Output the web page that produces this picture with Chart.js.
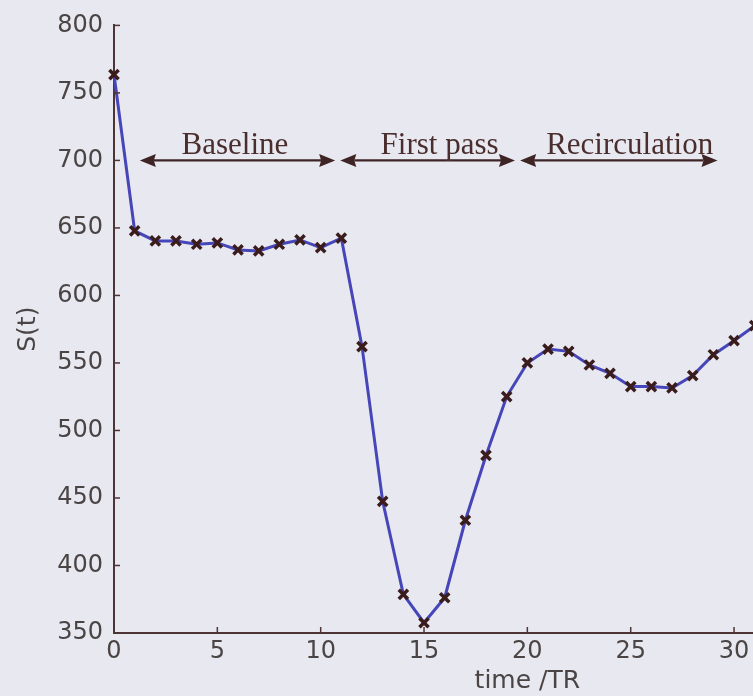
<!DOCTYPE html>
<html>
<head>
<meta charset="utf-8">
<script src="https://cdn.jsdelivr.net/npm/chart.js@4"></script>
<style>
  html, body { margin: 0; padding: 0; background: #e8e8f0; overflow: hidden; width: 753px; height: 696px; }
  #wrap { width: 960px; height: 696px; }
</style>
</head>
<body>
<div id="wrap"><canvas id="c" width="960" height="696"></canvas></div>
<script>
// Signal intensity S(t) sampled once per repetition time
const timeTR = [0, 1, 2, 3, 4, 5, 6, 7, 8, 9, 10, 11, 12, 13, 14, 15,
                16, 17, 18, 19, 20, 21, 22, 23, 24, 25, 26, 27, 28, 29, 30, 31];
const signal = [763.6, 647.8, 640.4, 640.4, 637.9, 638.9, 633.7, 633.0, 637.9, 641.1, 635.4, 642.4,
                562.1, 447.5, 378.6, 357.6, 376.1, 433.5, 481.5, 525.1, 550.0, 560.3, 558.6, 548.5,
                542.3, 532.5, 532.5, 531.5, 540.6, 556.1, 566.5, 577.6];

// Axis tick values
const xTickValues = [0, 5, 10, 15, 20, 25, 30, 35, 40];
const yTickValues = [350, 400, 450, 500, 550, 600, 650, 700, 750, 800];

// Bolus phases: arrow spans (in TR) and where each name sits
const phaseNames   = ['Baseline', 'First pass', 'Recirculation'];
const phaseFrom    = [1.25, 10.95, 19.65];
const phaseTo      = [10.7, 19.4, 29.2];
const phaseLabelAt = [5.85, 15.75, 24.95];
const phaseLevel   = 700;

const AXIS_COL = '#4e3434';
const TEXT_COL = '#4a4444';
const NOTE_COL = '#3e2424';
const SANS = '"DejaVu Sans", "Liberation Sans", Arial, sans-serif';

const fixTicks = values => scale => { scale.ticks = values.map(v => ({ value: v })); };

// Inward tick marks and the phase arrows
const decorations = {
  id: 'decorations',
  afterDraw(chart) {
    const { ctx, chartArea, scales: { x, y } } = chart;
    ctx.save();
    ctx.strokeStyle = AXIS_COL;
    ctx.lineWidth = 1.5;
    const tl = 6;
    xTickValues.forEach(v => {
      const px = x.getPixelForValue(v);
      ctx.beginPath();
      ctx.moveTo(px, chartArea.bottom);
      ctx.lineTo(px, chartArea.bottom - tl);
      ctx.stroke();
    });
    yTickValues.forEach(v => {
      const py = y.getPixelForValue(v);
      ctx.beginPath();
      ctx.moveTo(chartArea.left, py);
      ctx.lineTo(chartArea.left + tl, py);
      ctx.stroke();
    });

    const ay = y.getPixelForValue(phaseLevel);
    const headLen = 16, headHalf = 6.5;
    ctx.fillStyle = NOTE_COL;
    ctx.strokeStyle = NOTE_COL;
    ctx.lineWidth = 2.2;
    phaseNames.forEach((name, i) => {
      const x0 = x.getPixelForValue(phaseFrom[i]);
      const x1 = x.getPixelForValue(phaseTo[i]);
      ctx.beginPath();
      ctx.moveTo(x0 + headLen - 2, ay);
      ctx.lineTo(x1 - headLen + 2, ay);
      ctx.stroke();
      ctx.beginPath();
      ctx.moveTo(x0, ay);
      ctx.lineTo(x0 + headLen, ay - headHalf);
      ctx.lineTo(x0 + headLen - 2, ay);
      ctx.lineTo(x0 + headLen, ay + headHalf);
      ctx.closePath();
      ctx.fill();
      ctx.beginPath();
      ctx.moveTo(x1, ay);
      ctx.lineTo(x1 - headLen, ay - headHalf);
      ctx.lineTo(x1 - headLen + 2, ay);
      ctx.lineTo(x1 - headLen, ay + headHalf);
      ctx.closePath();
      ctx.fill();

      ctx.font = '31px "Liberation Serif", "Times New Roman", serif';
      ctx.textAlign = 'center';
      ctx.textBaseline = 'alphabetic';
      ctx.fillStyle = '#4a2e2e';
      ctx.fillText(name, x.getPixelForValue(phaseLabelAt[i]), ay - 6);
      ctx.fillStyle = NOTE_COL;
    });
    ctx.restore();
  }
};

new Chart(document.getElementById('c'), {
  type: 'line',
  data: {
    datasets: [{
      data: timeTR.map((t, i) => ({ x: t, y: signal[i] })),
      borderColor: '#4646b8',
      borderWidth: 3,
      tension: 0,
      pointStyle: 'crossRot',
      pointRadius: 6.5,
      pointBorderWidth: 3.5,
      pointBorderColor: '#3a1c1c',
      pointBackgroundColor: '#3a1c1c',
      clip: false
    }]
  },
  options: {
    responsive: false,
    animation: false,
    events: [],
    layout: { padding: { left: 0, top: 24, right: 19, bottom: 0 } },
    plugins: { legend: { display: false }, tooltip: { enabled: false } },
    scales: {
      x: {
        type: 'linear',
        min: 0,
        max: 40,
        afterBuildTicks: fixTicks(xTickValues),
        afterFit: s => { s.height = 63; },
        grid: { drawOnChartArea: false, drawTicks: false },
        border: { color: AXIS_COL, width: 2 },
        ticks: {
          padding: 4,
          color: TEXT_COL,
          maxRotation: 0,
          font: { family: SANS, size: 24 }
        },
        title: {
          display: true,
          text: 'time /TR',
          color: TEXT_COL,
          padding: { top: 0, bottom: 0 },
          font: { family: SANS, size: 25 }
        }
      },
      y: {
        type: 'linear',
        min: 350,
        max: 800,
        afterBuildTicks: fixTicks(yTickValues),
        afterFit: s => { s.width = 114; },
        grid: { drawOnChartArea: false, drawTicks: false },
        border: { color: AXIS_COL, width: 2 },
        ticks: {
          padding: 11,
          color: TEXT_COL,
          font: { family: SANS, size: 24 }
        },
        title: {
          display: true,
          text: 'S(t)',
          color: TEXT_COL,
          padding: { top: 13, bottom: 0 },
          font: { family: SANS, size: 25 }
        }
      }
    }
  },
  plugins: [decorations]
});
</script>
</body>
</html>
